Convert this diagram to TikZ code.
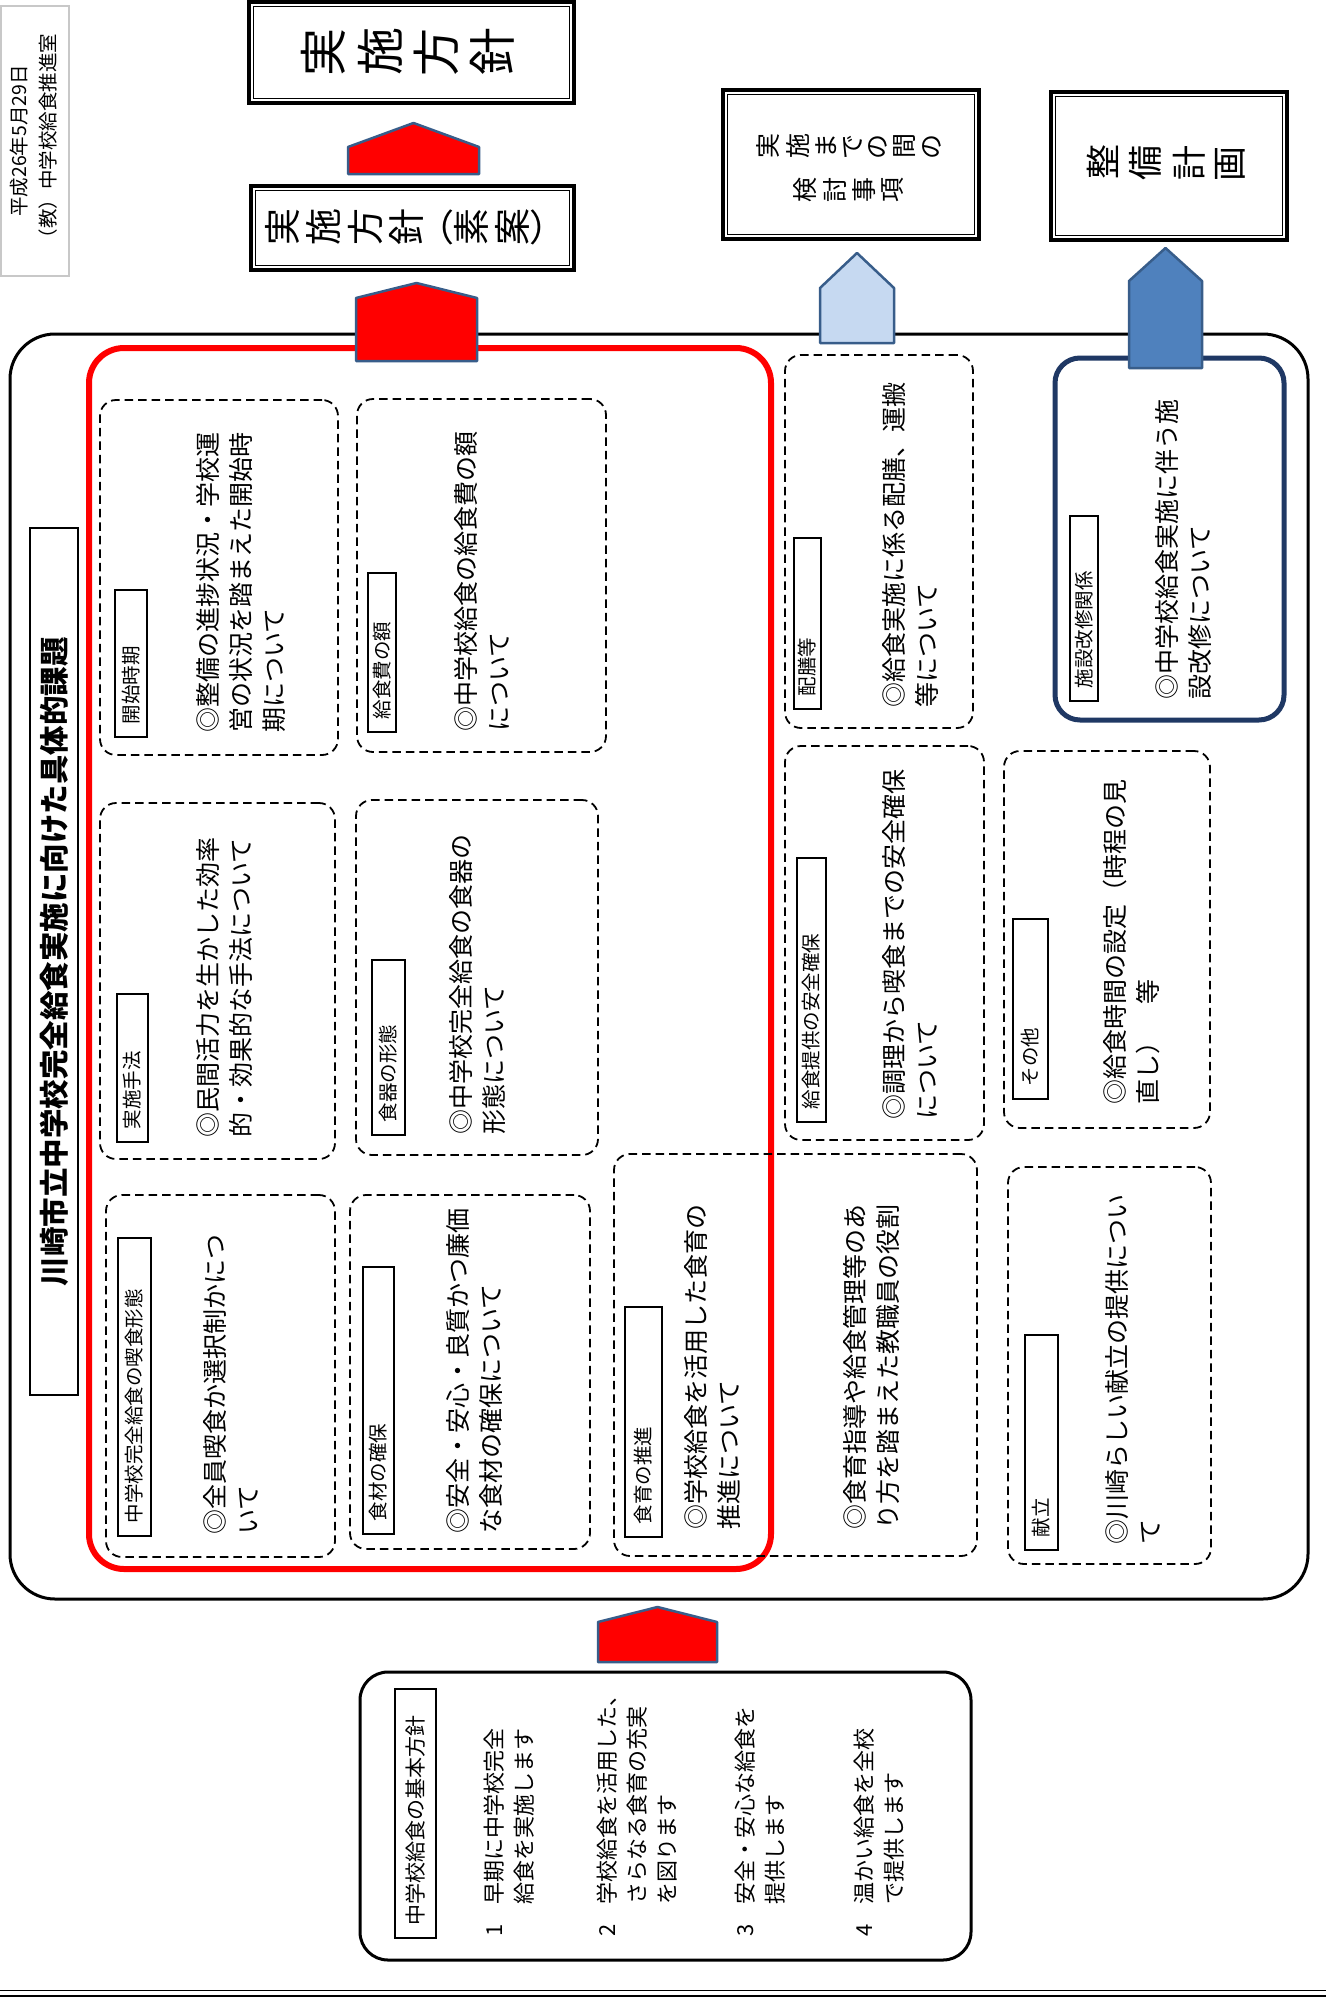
\documentclass[tikz,border=0pt]{standalone}
\usepackage{fontspec}
\setmainfont{Noto Sans CJK JP}
\usepackage{graphicx}
\usetikzlibrary{calc}
\definecolor{arrowedge}{HTML}{385D8A}
\definecolor{lightblue}{HTML}{C6D9F1}
\definecolor{midblue}{HTML}{4F81BD}
\definecolor{navyline}{HTML}{1F3864}
\definecolor{dateline}{HTML}{C8C8C8}
\newcommand\vtstop{\relax}
\newcommand\vtxt[2]{\def\vtsp{#1}\vtloop#2\vtstop\hspace{-\vtsp}}
\def\vtloop#1{\ifx#1\vtstop\else\rotatebox[origin=c]{90}{#1}\hspace{\vtsp}\expandafter\vtloop\fi}
\newcommand\innerframe[1]{\draw[line width=1.3pt] ($(#1.south west)+(6.5pt,6.5pt)$) rectangle ($(#1.north east)-(6.5pt,6.5pt)$);}
\newcommand\homeplate[6]{\draw[blockarrow, fill=#6] (#1,#5) -- (#1,#4) -- ({(#1+#2)/2},#3) -- (#2,#4) -- (#2,#5) -- cycle;}
\begin{document}
\begin{tikzpicture}[x=1pt,y=-1pt,
  body/.style={rotate=90, anchor=west, align=left, inner sep=0pt, font=\fontsize{25}{33}\selectfont},
  item/.style={rotate=90, anchor=west, align=left, inner sep=0pt, font=\fontsize{22}{30}\selectfont},
  lab/.style 2 args={draw, line width=1.4pt, rotate=90, inner xsep=13pt, inner ysep=0pt, align=left, text width=#1, minimum height=#2, font=\fontsize{19.5}{21}\selectfont},
  dbox/.style={draw, dash pattern=on 8.5pt off 5pt, line width=1.8pt, rounded corners=16pt, inner sep=0pt},
  dframe/.style={draw, line width=3.5pt, inner sep=0pt},
  blockarrow/.style={draw=arrowedge, line width=2.5pt, line join=round},
]
\useasboundingbox (0,0) rectangle (1326,1999);
\fill[white] (0,0) rectangle (1326,1999);

% date box
\node[draw=dateline, line width=1.5pt, minimum width=68pt, minimum height=270pt, inner sep=0pt] (date) at (35,141) {};
\node[rotate=90, align=center, font=\fontsize{19.5}{29}\selectfont, inner sep=0pt] (datetxt) at (33.5,141) {平成26年5月29日\\（教）中学校給食推進室};

% top framed boxes
\node[dframe, minimum width=325pt, minimum height=101pt] (t1) at (411.5,52.5) {};
\innerframe{t1}
\node[font=\fontsize{48}{48}\selectfont, inner sep=0pt] (t1txt) at (414,52) {\vtxt{12pt}{実施方針}};

\node[dframe, minimum width=323pt, minimum height=84pt] (t2) at (412.5,228) {};
\innerframe{t2}
\node[font=\fontsize{37}{37}\selectfont, inner sep=0pt] (t2txt) at (416,227) {\vtxt{7pt}{実施方針}\hspace{-6pt}（\vtxt{7pt}{素案}）\hspace{-16pt}};

\node[dframe, minimum width=256pt, minimum height=149pt] (t3) at (851,164.5) {};
\innerframe{t3}
\node[align=center, font=\fontsize{25}{44}\selectfont, inner sep=0pt] (t3txt) at (852,168) {\vtxt{6.5pt}{実施までの間の}\\\vtxt{6.5pt}{検討事項}};

\node[dframe, minimum width=236pt, minimum height=148pt] (t4) at (1169,166) {};
\innerframe{t4}
\node[font=\fontsize{35}{35}\selectfont, inner sep=0pt] (t4txt) at (1172,163) {\vtxt{11pt}{整備計画}};

% main frame
\node[draw, line width=3pt, rounded corners=45pt, minimum width=1298pt, minimum height=1265pt, inner sep=0pt] (main) at (659,966.5) {};

% title
\node[draw, line width=2pt, rotate=90, minimum width=867pt, minimum height=48pt, inner sep=0pt, font=\bfseries\fontsize{29.5}{30}\selectfont] (title) at (54,961.5) {川崎市立中学校完全給食実施に向けた具体的課題};

% red frame
\node[draw=red, line width=6pt, rounded corners=35pt, minimum width=682pt, minimum height=1221pt, inner sep=0pt] (redbox) at (430,958.5) {};

% dashed boxes
\node[dbox, minimum width=238pt, minimum height=355pt] (dA) at (219,577.5) {};
\node[dbox, minimum width=235pt, minimum height=356pt] (dB) at (217.5,981) {};
\node[dbox, minimum width=229pt, minimum height=362pt] (dC) at (220.5,1376) {};
\node[dbox, minimum width=249pt, minimum height=353pt] (dD) at (481.5,575.5) {};
\node[dbox, minimum width=242pt, minimum height=355pt] (dE) at (477,977.5) {};
\node[dbox, minimum width=240pt, minimum height=354pt] (dF) at (470,1372) {};
\node[dbox, minimum width=363pt, minimum height=402pt] (dG) at (795.5,1355) {};
\node[dbox, minimum width=188pt, minimum height=373pt] (dH) at (879,541.5) {};
\node[dbox, minimum width=199pt, minimum height=394pt] (dI) at (884.5,943) {};
\node[draw=navyline, line width=5pt, rounded corners=25pt, minimum width=229pt, minimum height=362pt, inner sep=0pt] (navy) at (1169.5,539) {};
\node[dbox, minimum width=206pt, minimum height=377pt] (dJ) at (1107,939.5) {};
\node[dbox, minimum width=203pt, minimum height=397pt] (dK) at (1109.5,1365.5) {};

% labels
\node[lab={121pt}{32pt}] (lA) at (131,663.5) {開始時期};
\node[lab={122pt}{31pt}] (lB) at (132.5,1068) {実施手法};
\node[lab={272pt}{33pt}] (lC) at (134.5,1387) {中学校完全給食の喫食形態};
\node[lab={133pt}{28pt}] (lD) at (382,652.5) {給食費の額};
\node[lab={149pt}{33pt}] (lE) at (388.5,1047.5) {食器の形態};
\node[lab={241pt}{31pt}] (lF) at (378.5,1400.5) {食材の確保};
\node[lab={204pt}{37pt}] (lG) at (643.5,1422) {食育の推進};
\node[lab={145pt}{27pt}] (lH) at (807.5,623.5) {配膳等};
\node[lab={238pt}{29pt}] (lI) at (811.5,990) {給食提供の安全確保};
\node[lab={159pt}{28pt}] (lK) at (1084,608.5) {施設改修関係};
\node[lab={154pt}{35pt}] (lJ) at (1030.5,1009) {その他};
\node[lab={189pt}{33pt}] (lL) at (1041.5,1442.5) {献立};

% body texts
\node[body] (bA) at (241,733) {◎整備の進捗状況・学校運\\営の状況を踏まえた開始時\\期について};
\node[body] (bB) at (225,1138) {◎民間活力を生かした効率\\的・効果的な手法について};
\node[body] (bC) at (231,1535) {◎全員喫食か選択制かにつ\\いて};
\node[body] (bD) at (482,732) {◎中学校給食の給食費の額\\について};
\node[body] (bE) at (478,1135) {◎中学校完全給食の食器の\\形態について};
\node[body] (bF) at (474,1534) {◎安全・安心・良質かつ廉価\\な食材の確保について};
\node[body] (bG) at (712.5,1530) {◎学校給食を活用した食育の\\推進について};
\node[body] (bH) at (871,1530) {◎食育指導や給食管理等のあ\\り方を踏まえた教職員の役割};
\node[body] (bI) at (910,708) {◎給食実施に係る配膳、運搬\\等について};
\node[body] (bJ) at (910,1120) {◎調理から喫食までの安全確保\\について};
\node[body] (bK) at (1183.5,700) {◎中学校給食実施に伴う施\\設改修について};
\node[body] (bL) at (1131.5,1105) {◎給食時間の設定（時程の見\\直し）　等};
\node[body] (bM) at (1132.5,1545) {◎川崎らしい献立の提供につい\\て};

% basic policy box
\node[draw, line width=3pt, rounded corners=28pt, minimum width=611pt, minimum height=288pt, inner sep=0pt] (policy) at (665.5,1816) {};
\node[lab={223pt}{41pt}, font=\fontsize{21}{23}\selectfont] (lP) at (415.5,1813.5) {中学校給食の基本方針};
\node[item] (i1) at (509,1937) {\makebox[32pt][l]{1}早期に中学校完全\\\hspace*{32pt}給食を実施します};
\node[item] (i2) at (637,1937) {\makebox[32pt][l]{2}学校給食を活用した、\\\hspace*{32pt}さらなる食育の充実\\\hspace*{32pt}を図ります};
\node[item] (i3) at (760,1937) {\makebox[32pt][l]{3}安全・安心な給食を\\\hspace*{32pt}提供します};
\node[item] (i4) at (879,1937) {\makebox[32pt][l]{4}温かい給食を全校\\\hspace*{32pt}で提供します};

% block arrows
\homeplate{348}{479}{123}{147}{174}{red}
\homeplate{356}{477}{283}{298}{361}{red}
\homeplate{820}{894}{253}{288}{343}{lightblue}
\homeplate{1129}{1202}{248}{281}{368}{midblue}
\homeplate{598}{717}{1607}{1622}{1662}{red}

% bottom page lines
\draw[line width=1pt] (0,1990) -- (1326,1990);
\draw[line width=2.5pt] (0,1996) -- (1326,1996);
\end{tikzpicture}
\end{document}
